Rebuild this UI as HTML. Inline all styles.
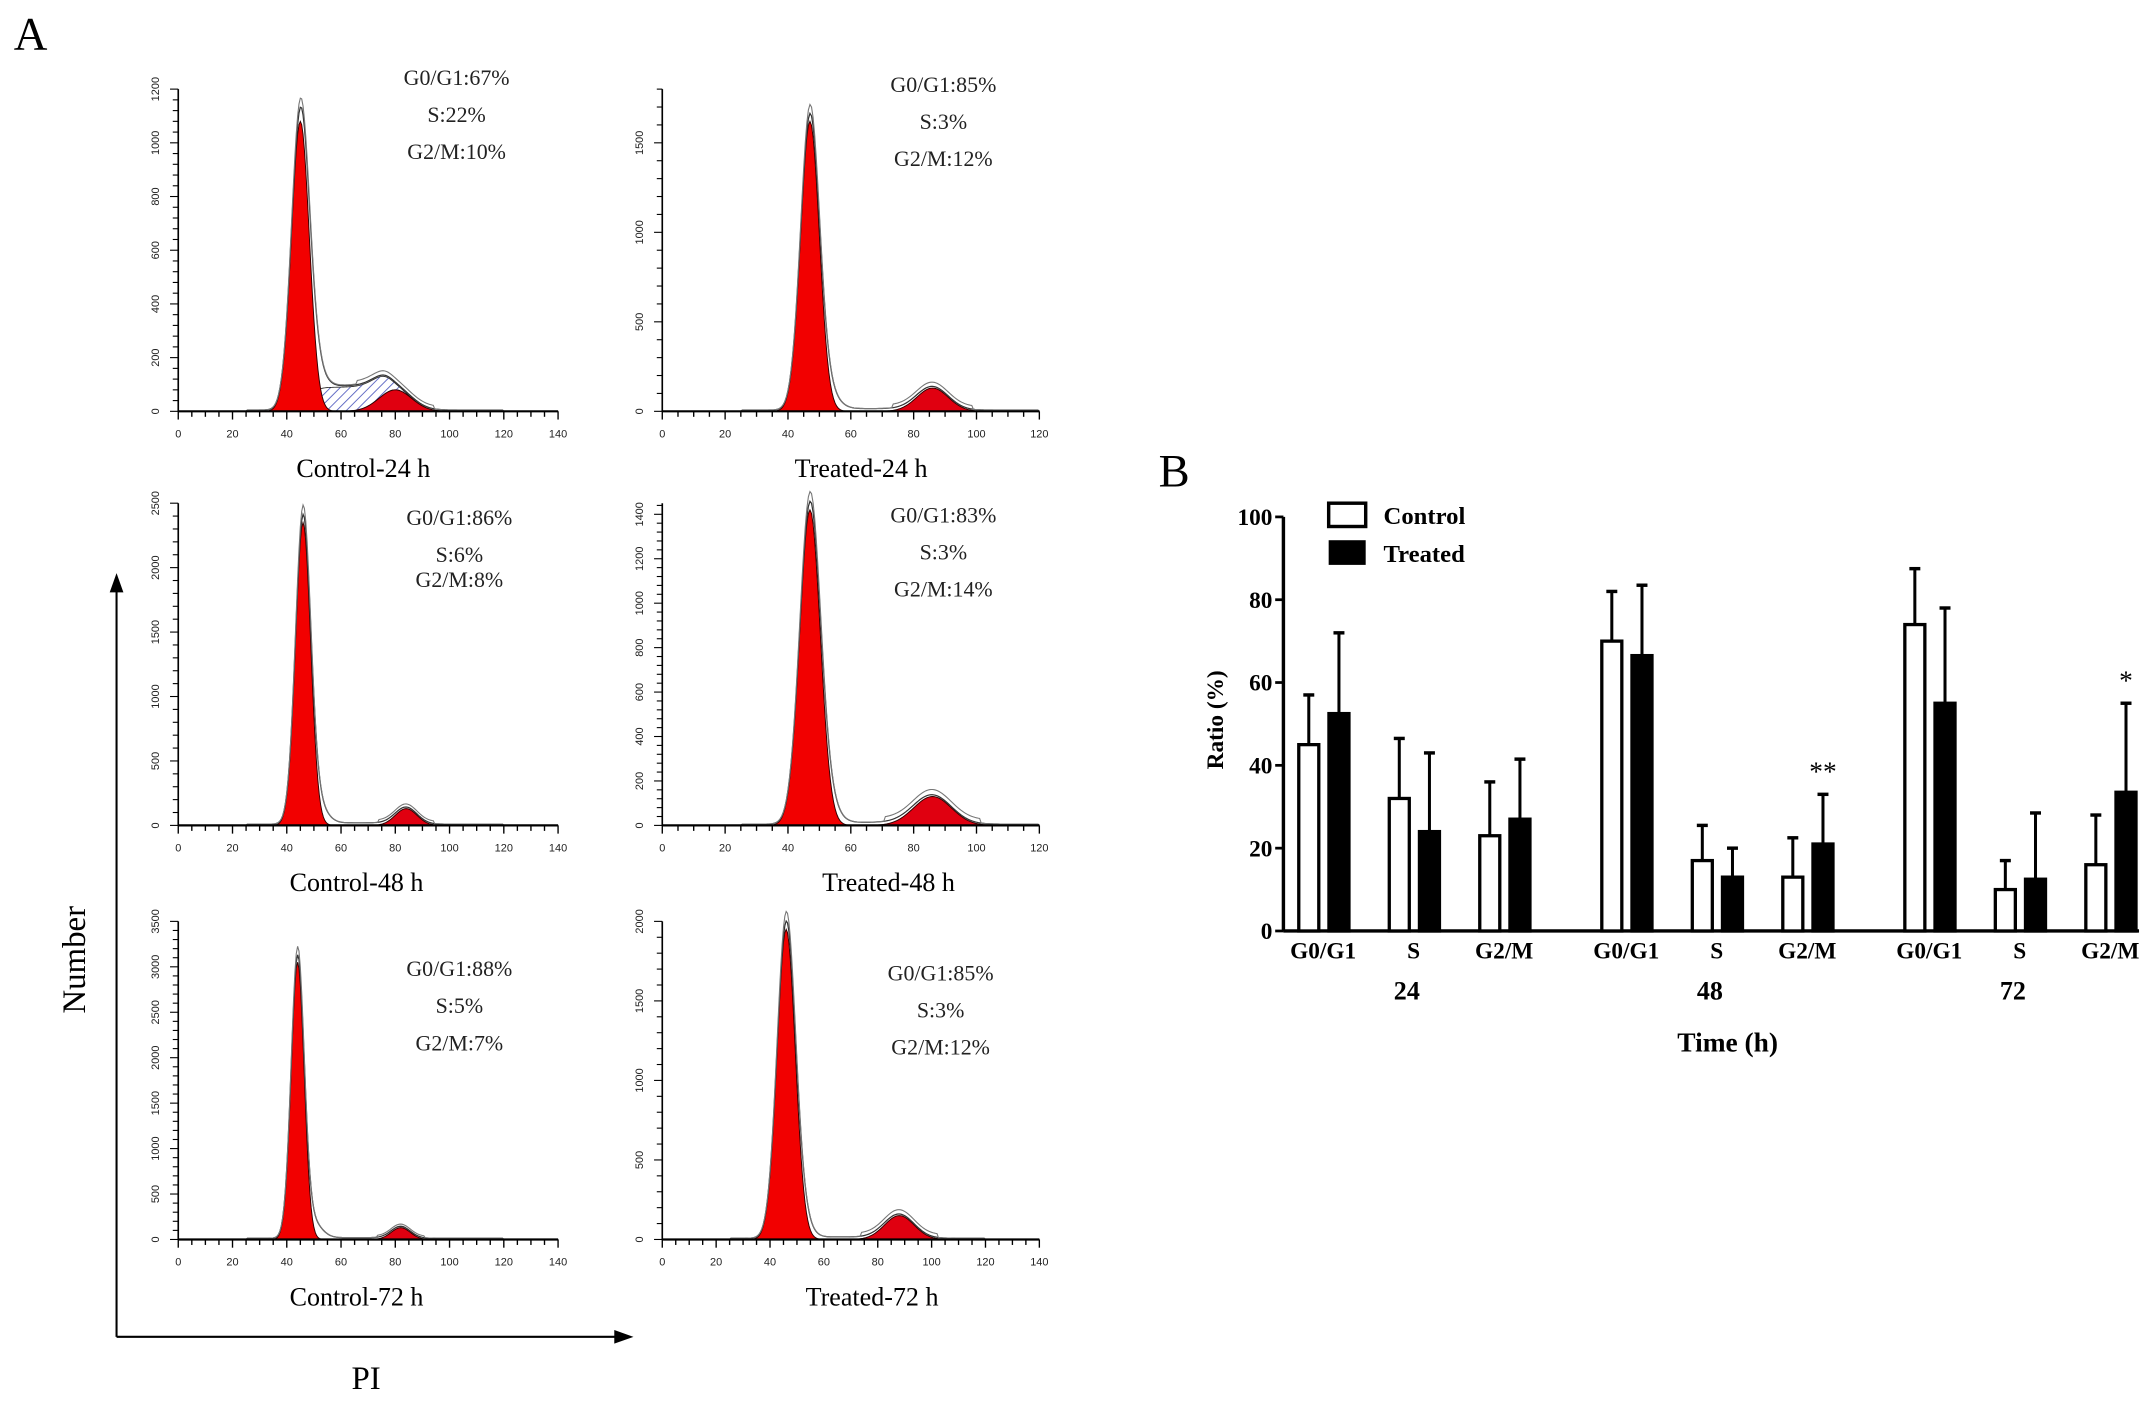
<!DOCTYPE html>
<html><head><meta charset="utf-8"><style>
html,body{margin:0;padding:0;background:#fff;}
svg{display:block;}
text{font-family:"Liberation Serif",serif;}
</style></head><body>
<svg id="fig" width="2150" height="1404" viewBox="0 0 1568 1024" preserveAspectRatio="none" xmlns="http://www.w3.org/2000/svg">
<defs>
<pattern id="hatch" patternUnits="userSpaceOnUse" width="5" height="5" patternTransform="rotate(45)">
<rect width="5" height="5" fill="#fff"/><line x1="0" y1="0" x2="0" y2="5" stroke="#5560c0" stroke-width="1.3"/>
</pattern>
</defs>
<text x="10" y="36" font-size="34">A</text>
<text x="845" y="355" font-size="34">B</text>
<g id="bigaxes">
<line x1="85" y1="975" x2="85" y2="428" stroke="#000" stroke-width="1.5"/>
<polygon points="85,418 80,432 90,432" fill="#000"/>
<line x1="85" y1="975" x2="452" y2="975" stroke="#000" stroke-width="1.5"/>
<polygon points="462,975 448,970 448,980" fill="#000"/>
<text x="62" y="700" font-size="24" transform="rotate(-90 62 700)" text-anchor="middle">Number</text>
<text x="267" y="1013" font-size="24" text-anchor="middle">PI</text>
</g>
<g id="hists"></g>
<g id="barchart"></g>
</svg>
<script>
// ---- Histogram data (A) ----
const histNames = ["Control-24 h","Treated-24 h","Control-48 h","Treated-48 h","Control-72 h","Treated-72 h"];
const histG1Mean = [45,47,46,47,44,46];
const histG1Height = [1080,1620,2350,1420,3050,1950];
const histG1Sd = [3.3,3.0,2.8,3.3,2.4,3.4];
const histG2Mean = [80,86,84,86,82,88];
const histG2Height = [80,130,130,130,130,150];
const histG2Sd = [6,5,4,6,3.5,5.5];
const histSHeight = [90,8,10,8,6,8];
const histYMax = [1200,1800,2500,1450,3500,2000];
const histYStep = [200,500,500,200,500,500];
const histXMax = [140,120,140,120,140,140];
const statG1 = ["G0/G1:67%","G0/G1:85%","G0/G1:86%","G0/G1:83%","G0/G1:88%","G0/G1:85%"];
const statS = ["S:22%","S:3%","S:6%","S:3%","S:5%","S:3%"];
const statG2 = ["G2/M:10%","G2/M:12%","G2/M:8%","G2/M:14%","G2/M:7%","G2/M:12%"];

// ---- Bar chart data (B) ----
const phases = ["G0/G1","S","G2/M","G0/G1","S","G2/M","G0/G1","S","G2/M"];
const times = ["24","48","72"];
const controlVals = [45,32,23,70,17,13,74,10,16];
const controlErrTop = [57,46.5,36,82,25.5,22.5,87.5,17,28];
const treatedVals = [52.5,24,27,66.5,13,21,55,12.5,33.5];
const treatedErrTop = [72,43,41.5,83.5,20,33,78,28.5,55];
const yTicks = [0,20,40,60,80,100];
const signif = ["","","","","","**","","","*"];

const NS="http://www.w3.org/2000/svg";
function mk(tag,attrs,parent){const e=document.createElementNS(NS,tag);for(const k in attrs)e.setAttribute(k,attrs[k]);parent.appendChild(e);return e;}

const layout=[
 {x0:130,x1:407,y0:300,yt:65,tx:333,ty:62,title:265},
 {x0:483,x1:758,y0:300,yt:65,tx:688,ty:67,title:628},
 {x0:130,x1:407,y0:602,yt:367,tx:335,ty:383,title:260},
 {x0:483,x1:758,y0:602,yt:367,tx:688,ty:381,title:648},
 {x0:130,x1:407,y0:904,yt:672,tx:335,ty:712,title:260},
 {x0:483,x1:758,y0:904,yt:672,tx:686,ty:715,title:636}
];
const hg=document.getElementById('hists');
histNames.forEach((nm,i)=>{
 const L=layout[i];
 const g=mk('g',{},hg);
 
 
 const sx=v=>L.x0+(L.x1-L.x0)*v/histXMax[i];
 const sy=v=>L.y0-(L.y0-L.yt)*v/histYMax[i];
 const gauss=(x,m,s,h)=>h*Math.exp(-(x-m)*(x-m)/(2*s*s));
 const sPlat=x=>histSHeight[i]/((1+Math.exp(-(x-histG1Mean[i]-2)/2))*(1+Math.exp((x-histG2Mean[i]+2)/2)));
 let g1p=[],g2p=[],sp=[],env=[],env2=[];
 for(let x=0;x<=histXMax[i];x+=0.5){
  const a=gauss(x,histG1Mean[i],histG1Sd[i],histG1Height[i]);
  const b=gauss(x,histG2Mean[i],histG2Sd[i],histG2Height[i]);
  const s=sPlat(x);
  const tail=gauss(x,histG1Mean[i]+5,3.5,histG1Height[i]*0.06);
  g1p.push(sx(x)+','+sy(a));
  g2p.push(sx(x)+','+sy(b));
  sp.push([x,s,b]);
  const e=a+b+s+tail+(x>25&&x<120?histYMax[i]*0.004:0);
  env.push(sx(x)+','+sy(e));
  env2.push(sx(x)+','+sy(e*1.03+ (b>5?histG2Height[i]*0.15:0)));
 }
 if(histSHeight[i]>30){
  const top=sp.map(p=>sx(p[0])+','+sy(p[1]+p[2])).join(' ');
  const bot=sp.slice().reverse().map(p=>sx(p[0])+','+sy(p[2])).join(' ');
  mk('polygon',{points:top+' '+bot,fill:'url(#hatch)',stroke:'#222','stroke-width':0.6,},g);
 }
 mk('polygon',{points:sx(0)+','+L.y0+' '+g1p.join(' ')+' '+sx(histXMax[i])+','+L.y0,fill:'#f20000',stroke:'#300','stroke-width':0.7,},g);
 mk('polygon',{points:sx(0)+','+L.y0+' '+g2p.join(' ')+' '+sx(histXMax[i])+','+L.y0,fill:'#e00010',stroke:'#300','stroke-width':0.7,},g);
 mk('polyline',{points:env.join(' '),fill:'none',stroke:'#333','stroke-width':0.9,},g);
 mk('polyline',{points:env2.join(' '),fill:'none',stroke:'#777','stroke-width':0.8,},g);
 mk('line',{x1:L.x0,y1:L.y0,x2:L.x1,y2:L.y0,stroke:'#000','stroke-width':1.6,},g);
 mk('line',{x1:L.x0,y1:L.y0,x2:L.x0,y2:L.yt,stroke:'#000','stroke-width':1.2,},g);
 for(let v=0;v<=histXMax[i];v+=5){
  const maj=v%20===0;
  mk('line',{x1:sx(v),y1:L.y0,x2:sx(v),y2:L.y0+(maj?6:4),stroke:'#000','stroke-width':1},g);
  if(maj){const t=mk('text',{x:sx(v),y:L.y0+19,'font-size':8,'text-anchor':'middle',fill:'#222',style:'font-family:"Liberation Sans",sans-serif'},g);t.textContent=v;
   }
 }
 const minor=histYStep[i]/5;
 for(let v=0;v<=histYMax[i]+0.1;v+=minor){
  const maj=Math.abs(v/histYStep[i]-Math.round(v/histYStep[i]))<1e-6;
  mk('line',{x1:L.x0,y1:sy(v),x2:L.x0-(maj?6:4),y2:sy(v),stroke:'#000','stroke-width':0.8},g);
  if(maj){const ty=sy(v);const t=mk('text',{x:L.x0-14,y:ty,'font-size':8,'text-anchor':'middle',fill:'#222',transform:`rotate(-90 ${L.x0-14} ${ty})`,style:'font-family:"Liberation Sans",sans-serif'},g);t.textContent=Math.round(v);
   }
 }
 const t1=mk('text',{x:L.title,y:L.y0+48,'font-size':19,'text-anchor':'middle'},g);t1.textContent=nm;
 
 [statG1[i],statS[i],statG2[i]].forEach((s,k)=>{
  const t=mk('text',{x:L.tx,y:L.ty+k*27+(i===2&&k===2?-9:0),'font-size':16,'text-anchor':'middle',fill:'#222'},g);t.textContent=s;
  
 });
});

// ---- bar chart ----
const bc=document.getElementById('barchart');
const AX=936,Y0=679,Y100=377,XEND=1560;
const by=v=>Y0-(Y0-Y100)*v/100;
const catLeft=k=>946+Math.floor(k/3)*221+(k%3)*66;
const BW=17;
mk('line',{x1:AX,y1:Y100,x2:AX,y2:Y0,stroke:'#000','stroke-width':2.5,},bc);
mk('line',{x1:AX,y1:Y0,x2:XEND,y2:Y0,stroke:'#000','stroke-width':2.5,},bc);
yTicks.forEach(v=>{
 mk('line',{x1:AX-6,y1:by(v),x2:AX,y2:by(v),stroke:'#000','stroke-width':2},bc);
 const t=mk('text',{x:AX-8,y:by(v)+6,'font-size':17,'font-weight':'bold','text-anchor':'end'},bc);t.textContent=v;
 
});
function bar(x,v,top,fill,name){
 mk('line',{x1:x+BW/2,y1:by(v),x2:x+BW/2,y2:by(top),stroke:'#000','stroke-width':2.2},bc);
 mk('line',{x1:x+BW/2-4,y1:by(top),x2:x+BW/2+4,y2:by(top),stroke:'#000','stroke-width':2.5},bc);
 const r=mk('rect',{x:x+1.2,y:by(v),width:BW-2.4,height:Y0-by(v),fill:fill,stroke:'#000','stroke-width':2.4},bc);
 
}
phases.forEach((p,k)=>{
 const x=catLeft(k);
 bar(x,controlVals[k],controlErrTop[k],'#fff','control-bar');
 bar(x+22,treatedVals[k],treatedErrTop[k],'#000','treated-bar');
 const t=mk('text',{x:x+19,y:Y0+20,'font-size':17,'font-weight':'bold','text-anchor':'middle'},bc);t.textContent=p;
 
 if(signif[k]){const s=mk('text',{x:x+22+BW/2,y:by(treatedErrTop[k])-10,'font-size':20,'text-anchor':'middle'},bc);s.textContent=signif[k];
  }
});
times.forEach((tm,j)=>{
 const t=mk('text',{x:catLeft(j*3+1)+14,y:Y0+50,'font-size':19,'font-weight':'bold','text-anchor':'middle'},bc);t.textContent=tm;
 
});
const xt=mk('text',{x:1260,y:Y0+88,'font-size':20,'font-weight':'bold','text-anchor':'middle'},bc);xt.textContent='Time (h)';

const yt=mk('text',{x:892,y:525,'font-size':17,'font-weight':'bold','text-anchor':'middle',transform:'rotate(-90 892 525)'},bc);yt.textContent='Ratio (%)';

mk('rect',{x:969,y:367,width:27,height:17,fill:'#fff',stroke:'#000','stroke-width':2.5,},bc);
mk('rect',{x:969,y:394,width:27,height:18,fill:'#000',},bc);
const l1=mk('text',{x:1009,y:382,'font-size':18,'font-weight':'bold'},bc);l1.textContent='Control';

const l2=mk('text',{x:1009,y:410,'font-size':18,'font-weight':'bold'},bc);l2.textContent='Treated';

</script>
</body></html>
